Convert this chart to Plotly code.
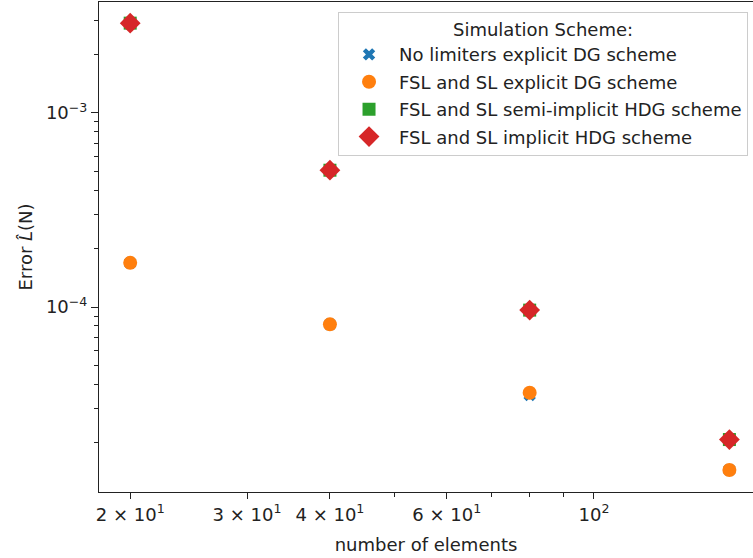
import plotly.graph_objects as go

# ---- data ----
n_elements = [20, 40, 80, 160]
no_limiters_dg = [1.69e-4, 8.15e-5, 3.53e-5, 1.45e-5]
fsl_sl_dg = [1.69e-4, 8.15e-5, 3.62e-5, 1.45e-5]
fsl_sl_semi_hdg = [2.9e-3, 5.07e-4, 9.65e-5, 2.08e-5]
fsl_sl_impl_hdg = [2.9e-3, 5.07e-4, 9.65e-5, 2.08e-5]

series_names = [
    "No limiters explicit DG scheme",
    "FSL and SL explicit DG scheme",
    "FSL and SL semi-implicit HDG scheme",
    "FSL and SL implicit HDG scheme",
]
x_tickvals = [20, 30, 40, 60, 100]
x_ticktext = ["2 × 10<sup>1</sup>", "3 × 10<sup>1</sup>", "4 × 10<sup>1</sup>",
              "6 × 10<sup>1</sup>", "10<sup>2</sup>"]
x_minor = [50, 70, 80, 90]
y_tickvals = [1e-4, 1e-3]
y_ticktext = ["10<sup>−4</sup>", "10<sup>−3</sup>"]
y_minor = [k * 10.0 ** e for e in (-5, -4, -3) for k in range(2, 10)]

FONT = "DejaVu Sans"
fig = go.Figure()
styles = [
    dict(symbol="x", size=11, color="#1f77b4"),
    dict(symbol="circle", size=14, color="#ff7f0e"),
    dict(symbol="square", size=13, color="#2ca02c"),
    dict(symbol="diamond", size=16, color="#d62728"),
]
for name, ys, st, g in zip(series_names,
                          [no_limiters_dg, fsl_sl_dg, fsl_sl_semi_hdg, fsl_sl_impl_hdg],
                          styles, range(4)):
    fig.add_trace(go.Scatter(
        x=n_elements, y=ys, mode="markers", name=name, legendgroup=str(g),
        marker=dict(symbol=st["symbol"], size=st["size"], color=st["color"],
                    line=dict(width=0)),
    ))

fig.update_layout(
    width=753, height=558,
    margin=dict(l=99, r=0, t=2, b=66),
    paper_bgcolor="white", plot_bgcolor="white",
    font=dict(family=FONT, size=18, color="#222"),
    showlegend=True,
    legend=dict(
        x=0.9924, y=0.980, xanchor="right", yanchor="top",
        bgcolor="rgba(255,255,255,0.85)", bordercolor="#cccccc", borderwidth=1,
        font=dict(family=FONT, size=18, color="#222"),
        title=dict(text="Simulation Scheme:", side="top center",
                   font=dict(family=FONT, size=18, color="#222")),
        tracegroupgap=1, itemwidth=50,
    ),
    xaxis=dict(
        type="log", range=[1.25401, 2.23969],
        title=dict(text="number of elements", font=dict(size=18), standoff=14),
        tickmode="array", tickvals=x_tickvals, ticktext=x_ticktext,
        ticks="outside", ticklen=6, tickwidth=1, tickcolor="#222",
        minor=dict(tickmode="array", tickvals=x_minor, ticks="outside",
                   ticklen=4, tickwidth=1, tickcolor="#222"),
        showgrid=False, zeroline=False,
        showline=True, linecolor="#222", linewidth=1, mirror=True,
    ),
    yaxis=dict(
        type="log", range=[-4.9521, -2.4287],
        title=dict(text="Error <i>L̂</i>(N)", font=dict(size=18), standoff=8),
        tickmode="array", tickvals=y_tickvals, ticktext=y_ticktext,
        ticks="outside", ticklen=7, tickwidth=1, tickcolor="#222",
        minor=dict(tickmode="array", tickvals=y_minor, ticks="outside",
                   ticklen=4, tickwidth=1, tickcolor="#222"),
        showgrid=False, zeroline=False,
        showline=True, linecolor="#222", linewidth=1, mirror=False,
    ),
)

fig.write_html("out.html")
